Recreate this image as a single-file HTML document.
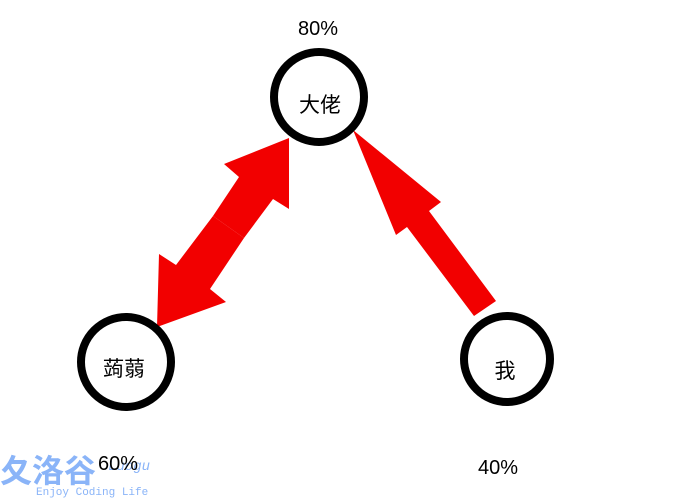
<!DOCTYPE html>
<html><head><meta charset="utf-8"><style>
body{margin:0;background:#fff;width:673px;height:498px;overflow:hidden;font-family:"Liberation Sans","Noto Sans CJK SC",sans-serif}
</style></head><body>
<svg width="673" height="498" xmlns="http://www.w3.org/2000/svg">
<g fill="#f20000">
<polygon points="289,138 289,209 273,199 244,238 213,216 239,177 224,164"/>
<polygon points="157,327 159,254 176,265 213,216 244,238 210,289 226,302"/>
<polygon points="353,130 441,202 429,211 496,301 474,316 407,227 396,235"/>
</g>
<g fill="none" stroke="#000" stroke-width="8">
<circle cx="319" cy="97" r="45"/>
<circle cx="126" cy="362" r="45"/>
<circle cx="507" cy="359" r="43"/>
</g>
<g font-family="Liberation Sans, Noto Sans CJK SC, sans-serif" font-size="21" fill="#000">
<text x="320" y="112" text-anchor="middle">大佬</text>
<text x="124" y="376" text-anchor="middle">蒟蒻</text>
<text x="505" y="378" text-anchor="middle">我</text>
<text x="318" y="35" text-anchor="middle" font-size="20">80%</text>
<text x="498" y="474" text-anchor="middle" font-size="20">40%</text>
</g>
<g fill="#8ab4f8" font-family="Liberation Mono, Noto Sans CJK SC, monospace">
<text x="0" y="482" font-size="32" font-weight="bold">夂洛谷</text>
<text x="108" y="470" font-size="14" font-style="italic">Luogu</text>
<text x="36" y="495" font-size="11">Enjoy Coding Life</text>
</g>
<text x="118" y="470" text-anchor="middle" font-size="20" fill="#000" font-family="Liberation Sans, sans-serif">60%</text>
</svg>
</body></html>
